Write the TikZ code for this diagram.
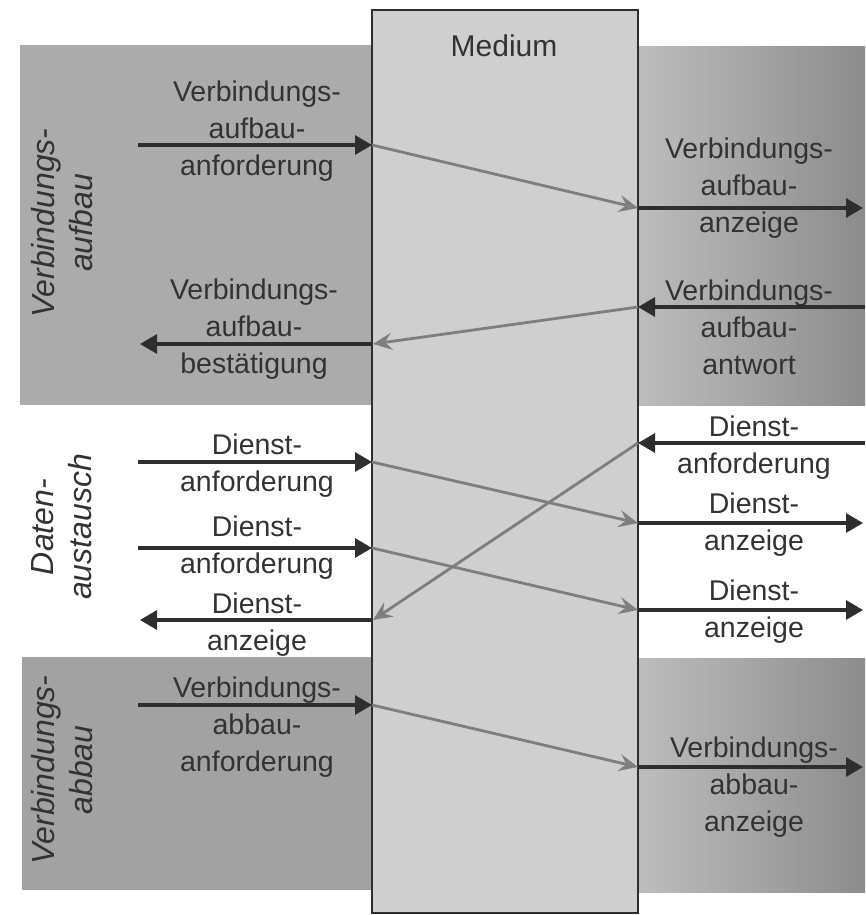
\documentclass[tikz,border=0pt]{standalone}
\usepackage{fontspec}
\setmainfont{Liberation Sans}
\usetikzlibrary{arrows.meta}
\definecolor{txt}{HTML}{333333}
\definecolor{dk}{HTML}{2E2E2E}
\definecolor{gr}{HTML}{7E7E7E}
\definecolor{bandL}{HTML}{ABABAB}
\definecolor{bandRa}{HTML}{BDBDBD}
\definecolor{bandRb}{HTML}{8C8C8C}
\definecolor{med}{HTML}{CFCFCF}
\tikzset{
  lbl/.style={align=center, font=\fontsize{28.5}{37}\selectfont, text=txt, inner sep=0pt},
  sidelbl/.style={align=center, font=\fontsize{32}{38}\selectfont\itshape, text=txt, rotate=90, inner sep=0pt},
  blk/.style={draw=dk, line width=3.2pt, -{Triangle[length=17pt,width=19pt]}},
  gry/.style={draw=gr, line width=2.8pt, -{Stealth[length=19pt,width=17pt,inset=7pt]}},
}
\begin{document}
\begin{tikzpicture}[x=1pt,y=-1pt]
\useasboundingbox (0,0) rectangle (865,915);
% bands
\fill[bandL] (20,45) rectangle (372,405);
\shade[left color=bandRa, right color=bandRb] (638,47) rectangle (865,405);
\fill[bandL!95!black] (22,657) rectangle (372,890);
\shade[left color=bandRa, right color=bandRb] (638,658) rectangle (865,892);
% medium
\node[draw=dk, line width=1.8pt, fill=med, minimum width=266pt, minimum height=903pt, inner sep=0pt] (medium) at (505,461.5) {};
\node[lbl, font=\fontsize{30}{37}\selectfont] (medlbl) at (504,46) {Medium};
% coordinates
\coordinate (a0) at (138,145); \coordinate (a1) at (372,145);
\coordinate (b1) at (638,208); \coordinate (b2) at (863,208);
\coordinate (c0) at (865,307); \coordinate (c1) at (638,307);
\coordinate (c2) at (373,344); \coordinate (c3) at (140,344);
\coordinate (d0) at (138,462); \coordinate (d1) at (372,462);
\coordinate (d2) at (638,523); \coordinate (d3) at (863,523);
\coordinate (e0) at (138,548); \coordinate (e1) at (372,548);
\coordinate (e2) at (638,610); \coordinate (e3) at (863,610);
\coordinate (f0) at (865,443); \coordinate (f1) at (638,443);
\coordinate (f2) at (373,620); \coordinate (f3) at (140,620);
\coordinate (g0) at (138,705); \coordinate (g1) at (372,705);
\coordinate (g2) at (638,767); \coordinate (g3) at (863,767);
% arrows
\draw[blk] (a0) -- (a1); \draw[gry] (a1) -- (b1); \draw[blk] (b1) -- (b2);
\draw[blk] (c0) -- (c1); \draw[gry] (c1) -- (c2); \draw[blk] (c2) -- (c3);
\draw[blk] (d0) -- (d1); \draw[gry] (d1) -- (d2); \draw[blk] (d2) -- (d3);
\draw[blk] (e0) -- (e1); \draw[gry] (e1) -- (e2); \draw[blk] (e2) -- (e3);
\draw[blk] (f0) -- (f1); \draw[gry] (f1) -- (f2); \draw[blk] (f2) -- (f3);
\draw[blk] (g0) -- (g1); \draw[gry] (g1) -- (g2); \draw[blk] (g2) -- (g3);
% labels
\node[lbl] (la) at (257,131) {Verbindungs-\\aufbau-\\anforderung};
\node[lbl] (lb) at (749,188.5) {Verbindungs-\\aufbau-\\anzeige};
\node[lbl] (lc) at (749,327) {Verbindungs-\\aufbau-\\antwort};
\node[lbl] (ld) at (254,329.5) {Verbindungs-\\aufbau-\\bestätigung};
\node[lbl] (le) at (257,466) {Dienst-\\anforderung};
\node[lbl] (lf) at (257,547.5) {Dienst-\\anforderung};
\node[lbl] (lg) at (257,625) {Dienst-\\anzeige};
\node[lbl] (lh) at (754,448) {Dienst-\\anforderung};
\node[lbl] (li) at (754,525) {Dienst-\\anzeige};
\node[lbl] (lj) at (754,612) {Dienst-\\anzeige};
\node[lbl] (lk) at (257,727.5) {Verbindungs-\\abbau-\\anforderung};
\node[lbl] (ll) at (754,787) {Verbindungs-\\abbau-\\anzeige};
% side labels
\node[sidelbl] (s1) at (62,223) {Verbindungs-\\aufbau};
\node[sidelbl] (s2) at (62,527) {Daten-\\austausch};
\node[sidelbl] (s3) at (62,770) {Verbindungs-\\abbau};
\end{tikzpicture}
\end{document}
